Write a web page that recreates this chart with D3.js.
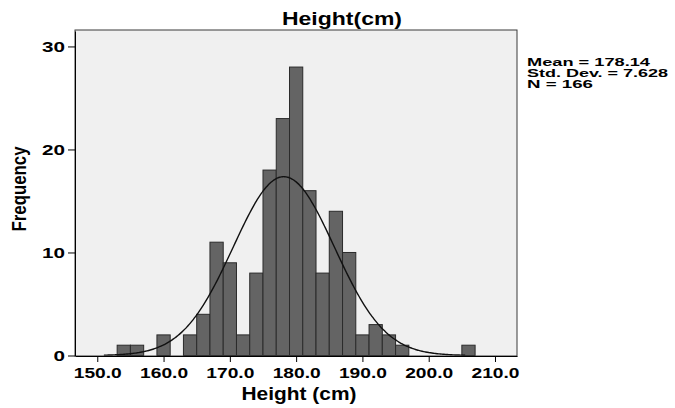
<!DOCTYPE html>
<html>
<head>
<meta charset="utf-8">
<script src="https://cdn.jsdelivr.net/npm/d3@7/dist/d3.min.js"></script>
<style>
  html, body { margin: 0; padding: 0; background: #ffffff; }
  svg { display: block; }
  text { font-family: "Liberation Sans", Arial, sans-serif; font-weight: bold; fill: #000; }
</style>
</head>
<body>
<svg id="chart" width="675" height="408"></svg>
<script>
// ---- Data ----
const binLower = [153, 155, 159, 163, 165, 167, 169, 171, 173, 175, 177, 179, 181, 183, 185, 187, 189, 191, 193, 195, 205];
const binCounts = [1, 1, 2, 2, 4, 11, 9, 2, 8, 18, 23, 28, 16, 8, 14, 10, 2, 3, 2, 1, 1];
const binWidth = 2;
const xTicks = [150, 160, 170, 180, 190, 200, 210];
const yTicks = [0, 10, 20, 30];
const statsLines = ["Mean = 178.14", "Std. Dev. = 7.628", "N = 166"];
const mean = 178.14, sd = 7.628, n = 166;
const titleText = "Height(cm)";
const xLabel = "Height (cm)";
const yLabel = "Frequency";

// ---- Layout ----
const svg = d3.select("#chart");
const L = 75, R = 517, T = 30, B = 356;

const x = d3.scaleLinear().domain([146.64, 213.32]).range([L, R]);
const y = d3.scaleLinear().domain([0, 31.5]).range([355.5, 31]);

// plot background
svg.append("rect")
  .attr("x", L).attr("y", T).attr("width", R - L).attr("height", B - T)
  .attr("fill", "#f0f0f0");

// bars
svg.append("g").selectAll("rect")
  .data(binLower.map((b, i) => ({ lo: b, c: binCounts[i] })))
  .join("rect")
  .attr("x", d => x(d.lo))
  .attr("y", d => y(d.c))
  .attr("width", d => x(d.lo + binWidth) - x(d.lo))
  .attr("height", d => y(0) - y(d.c))
  .attr("fill", "#646464")
  .attr("stroke", "#2b2b2b")
  .attr("stroke-width", 1);

// normal curve
const pdf = v => (n * binWidth) / (sd * Math.sqrt(2 * Math.PI)) * Math.exp(-0.5 * ((v - mean) / sd) ** 2);
const curvePts = d3.range(151, 205.51, 0.25).map(v => [v, pdf(v)]);
svg.append("path")
  .datum(curvePts)
  .attr("fill", "none")
  .attr("stroke", "#111")
  .attr("stroke-width", 1.4)
  .attr("d", d3.line().x(d => x(d[0])).y(d => y(d[1])).curve(d3.curveBasis));

// frame (top/right)
svg.append("rect")
  .attr("x", L).attr("y", T).attr("width", R - L).attr("height", B - T)
  .attr("fill", "none").attr("stroke", "#3a3a3a").attr("stroke-width", 1);

// x axis
const gx = svg.append("g").attr("transform", `translate(0,${B})`)
  .call(d3.axisBottom(x).tickValues(xTicks).tickFormat(d3.format(".1f")).tickSize(6).tickSizeOuter(0));
gx.select(".domain").attr("stroke", "#000");
gx.selectAll(".tick line").attr("stroke", "#000");
gx.selectAll(".tick text")
  .attr("y", 10.5)
  .style("font-size", "15.5px")
  .style("font-family", "'Liberation Sans', Arial, sans-serif")
  .style("font-weight", "bold")
  .attr("fill", "#000")
  .attr("textLength", 48)
  .attr("lengthAdjust", "spacingAndGlyphs");

// y axis
const gy = svg.append("g").attr("transform", `translate(${L},0)`)
  .call(d3.axisLeft(y).tickValues(yTicks).tickFormat(d3.format("d")).tickSize(7).tickSizeOuter(0));
gy.select(".domain").attr("stroke", "#000");
gy.selectAll(".tick line").attr("stroke", "#000");
gy.selectAll(".tick text")
  .attr("x", -10)
  .style("font-size", "15.5px")
  .style("font-family", "'Liberation Sans', Arial, sans-serif")
  .style("font-weight", "bold")
  .attr("fill", "#000")
  .attr("textLength", d => String(d).length * 11.5)
  .attr("lengthAdjust", "spacingAndGlyphs");

// title
svg.append("text")
  .attr("x", 342).attr("y", 25)
  .attr("text-anchor", "middle")
  .style("font-size", "17.5px")
  .attr("textLength", 120).attr("lengthAdjust", "spacingAndGlyphs")
  .text(titleText);

// x label
svg.append("text")
  .attr("x", 299).attr("y", 400)
  .attr("text-anchor", "middle")
  .style("font-size", "18px")
  .attr("textLength", 115).attr("lengthAdjust", "spacingAndGlyphs")
  .text(xLabel);

// y label
svg.append("text")
  .attr("transform", "translate(26,189) scale(1.28,1) rotate(-90)")
  .attr("text-anchor", "middle")
  .style("font-size", "15.5px")
  .attr("textLength", 85).attr("lengthAdjust", "spacingAndGlyphs")
  .text(yLabel);

// stats box text
const statWidths = [123, 141, 66];
svg.append("g").selectAll("text")
  .data(statsLines)
  .join("text")
  .attr("x", 527)
  .attr("y", (d, i) => 65.5 + i * 11)
  .style("font-size", "11px")
  .attr("textLength", (d, i) => statWidths[i])
  .attr("lengthAdjust", "spacingAndGlyphs")
  .text(d => d);
</script>
</body>
</html>
